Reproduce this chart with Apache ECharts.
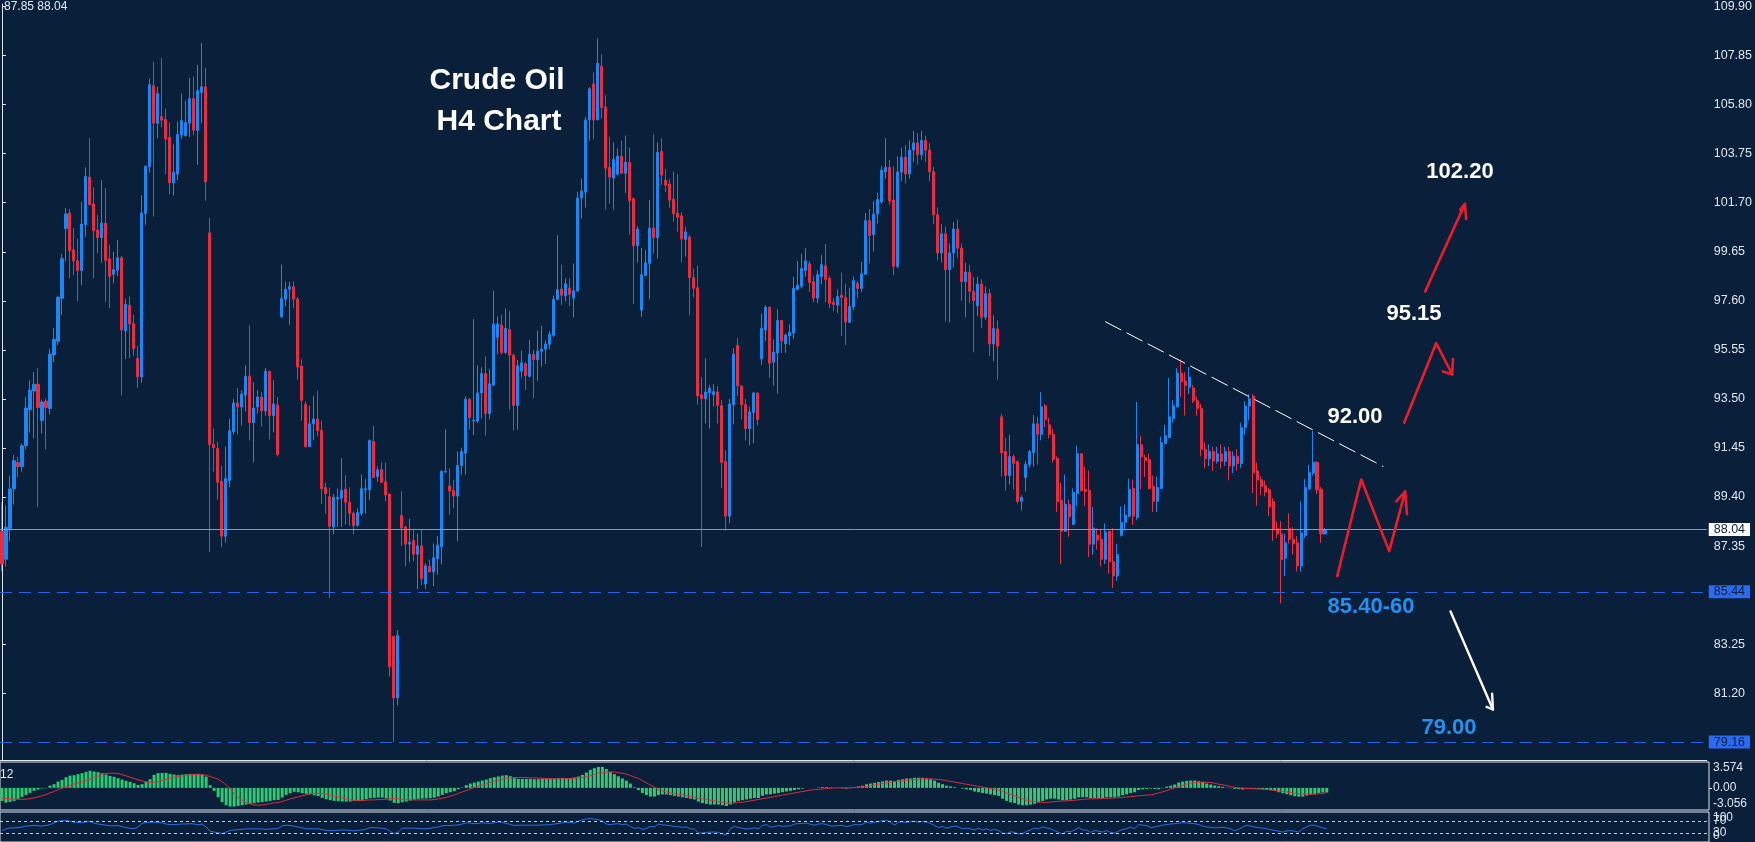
<!DOCTYPE html>
<html>
<head>
<meta charset="utf-8">
<title>Crude Oil H4 Chart</title>
<script src="https://cdn.jsdelivr.net/npm/echarts@6.0.0/dist/echarts.min.js"></script>
<style>
  html, body { margin: 0; padding: 0; background: #0a1f3a; }
  #chart { width: 1755px; height: 842px; }
</style>
</head>
<body>
<div id="chart"></div>
<script>
// H4 bars, oldest first: [open, close, low, high]
const candles = [
  [87.97,86.60,86.30,89.18],[86.80,88.14,86.50,89.05],[88.08,89.74,87.55,90.30],[89.74,90.92,89.08,91.16],[90.84,90.67,90.23,91.09],
  [90.67,91.54,90.46,91.64],[91.54,93.12,91.39,93.58],[93.05,93.86,92.09,94.27],[93.83,94.11,91.85,94.62],[94.11,93.14,88.98,94.79],
  [92.60,93.37,92.06,93.47],[93.41,93.14,91.39,93.51],[93.10,95.37,92.85,95.59],[95.34,95.99,95.03,96.45],[95.91,97.74,95.75,97.81],
  [97.71,99.36,97.00,99.56],[100.62,101.23,99.25,101.48],[101.27,99.70,98.54,101.44],[99.73,99.27,98.68,100.65],[99.27,98.87,97.58,100.19],
  [98.87,100.81,98.25,101.73],[100.79,102.79,100.29,103.18],[102.77,101.62,101.62,104.39],[101.65,100.53,98.54,102.35],[100.56,100.24,99.58,101.19],
  [100.24,100.85,99.20,102.64],[100.85,99.29,97.56,102.31],[99.36,98.62,97.29,99.94],[98.71,98.90,98.33,99.65],[98.88,99.40,98.62,100.15],
  [99.40,96.38,93.65,99.48],[96.34,97.45,95.17,97.69],[97.41,96.63,95.21,97.78],[96.66,95.59,95.31,97.03],[95.20,94.42,93.97,95.70],
  [94.42,101.27,94.18,102.02],[101.24,103.22,100.78,103.26],[103.20,106.63,102.95,106.88],[106.59,105.02,101.12,107.59],[105.02,106.26,104.39,106.55],
  [105.30,105.15,104.86,107.75],[105.18,104.36,102.90,105.63],[104.43,102.53,102.06,105.05],[102.53,102.97,102.00,104.14],[102.90,104.55,102.65,105.09],
  [104.53,105.13,104.36,106.26],[104.51,105.05,104.47,105.97],[105.02,106.05,104.44,106.92],[106.05,104.73,104.53,106.96],[104.72,106.38,103.28,107.46],
  [106.30,106.55,105.02,108.38],[106.55,102.57,101.78,107.34],[100.44,91.60,87.10,101.06],[91.60,91.46,90.46,92.26],[91.43,90.02,89.29,91.71],
  [90.05,87.76,87.30,90.71],[87.76,90.17,87.50,91.50],[90.09,92.17,89.81,92.68],[92.13,93.33,92.01,93.50],[93.33,93.16,92.01,93.95],
  [93.16,93.70,92.39,93.87],[93.66,94.45,92.97,94.91],[94.45,92.51,91.77,96.57],[92.51,93.12,90.85,94.20],[93.16,93.58,92.89,93.87],
  [93.58,93.00,92.35,93.79],[93.00,94.66,92.80,94.79],[94.66,92.80,91.81,94.66],[92.80,93.29,92.10,94.29],[93.25,91.18,91.10,93.58],
  [96.93,97.69,96.90,99.11],[97.67,98.07,97.38,98.40],[98.08,98.19,96.59,98.40],[98.19,97.67,97.29,98.40],[97.67,94.84,94.30,97.76],
  [94.87,93.44,92.59,95.16],[93.28,91.51,91.46,93.39],[91.51,92.46,91.51,93.21],[92.46,92.66,91.77,93.63],[92.66,92.18,91.94,93.84],
  [92.18,89.75,89.11,92.59],[89.80,89.53,88.70,90.01],[89.42,88.18,85.19,89.80],[88.15,89.39,87.84,89.53],[89.32,89.39,88.15,89.75],
  [89.35,89.68,88.15,91.03],[89.73,89.18,88.25,90.32],[89.18,88.72,88.20,89.80],[88.72,88.20,87.84,88.80],[88.22,88.75,88.15,88.92],
  [88.72,89.75,88.61,90.34],[89.70,89.75,88.70,90.15],[89.70,91.77,89.27,91.80],[91.72,90.22,90.22,92.37],[90.25,90.53,90.04,90.68],
  [90.56,90.01,90.00,90.84],[90.04,89.49,89.22,90.84],[89.53,82.30,81.90,89.53],[83.58,81.00,79.16,83.58],[81.00,83.62,80.70,83.84],
  [88.63,88.11,87.36,89.65],[88.15,87.43,86.50,88.20],[87.43,87.51,86.68,88.49],[87.58,87.01,86.72,88.03],[87.01,87.36,85.55,87.87],
  [87.36,85.98,85.72,88.06],[85.77,86.53,85.56,86.63],[86.51,86.27,86.25,86.79],[86.27,86.86,85.68,87.46],[86.83,87.39,86.15,87.77],
  [87.32,90.48,86.58,90.51],[90.44,90.48,90.44,92.23],[89.87,89.65,88.67,90.60],[89.67,89.44,88.92,90.11],[89.44,90.72,87.55,91.30],
  [90.72,91.30,90.34,91.46],[91.23,93.49,90.34,93.61],[93.49,92.72,92.23,93.54],[92.58,92.61,91.99,96.83],[92.58,93.75,92.49,94.90],
  [93.75,94.56,92.68,94.82],[94.56,92.89,91.97,95.28],[92.89,94.13,92.66,94.75],[94.08,96.63,94.06,98.02],[96.08,96.63,95.37,96.94],
  [96.59,95.44,95.35,97.02],[95.44,96.45,95.39,97.28],[96.40,95.33,93.06,97.18],[95.33,93.23,92.18,95.39],[93.23,94.89,92.21,95.13],
  [94.66,95.01,94.39,95.52],[94.97,94.47,93.87,95.04],[94.44,95.37,94.40,95.97],[95.37,95.14,93.53,95.56],[95.14,95.49,94.25,96.35],
  [95.49,95.58,94.85,96.56],[95.58,95.80,94.96,95.95],[95.78,96.20,95.58,96.33],[96.16,97.66,96.09,97.82],[97.66,98.06,97.66,100.35],
  [98.09,97.83,97.42,99.11],[97.80,98.32,97.56,98.54],[98.14,97.87,97.38,98.54],[97.71,98.02,96.90,99.16],[98.02,101.90,97.97,102.16],
  [101.90,102.19,101.04,102.71],[102.14,105.16,101.50,105.29],[105.16,106.46,104.29,106.53],[106.67,105.16,104.36,107.14],[105.16,107.53,105.16,108.57],
  [107.40,105.68,105.22,107.90],[105.70,103.14,101.41,106.20],[103.18,102.77,101.66,104.47],[102.73,103.51,101.41,104.22],[102.89,103.64,102.86,103.97],
  [103.64,102.93,102.89,104.30],[102.93,103.39,102.11,104.51],[103.39,101.78,100.37,104.01],[101.87,99.90,97.46,101.91],[99.90,100.60,99.20,100.73],
  [97.21,98.69,96.92,99.81],[98.65,99.19,98.65,99.73],[99.17,100.64,97.67,101.81],[100.64,100.24,99.58,104.55],[100.24,103.80,99.37,104.22],
  [103.85,102.86,102.45,104.39],[102.64,102.43,102.14,103.11],[102.48,101.81,101.49,102.68],[101.85,101.24,100.91,103.01],[101.27,101.10,100.49,102.90],
  [101.15,100.19,99.20,101.31],[100.16,100.48,99.45,100.69],[100.27,98.57,97.00,100.36],[98.57,98.12,97.75,98.94],[98.15,93.63,93.26,99.07],
  [93.68,93.51,87.31,94.41],[93.51,93.79,92.47,95.20],[93.76,93.95,92.26,94.08],[93.68,93.80,93.18,94.12],[93.79,93.22,92.47,94.04],
  [93.22,90.85,89.77,93.46],[90.88,88.60,88.00,91.35],[88.60,93.29,88.30,93.50],[93.26,95.37,92.43,95.62],[95.74,94.05,93.63,96.03],
  [94.04,93.26,92.64,94.08],[93.26,92.26,91.76,93.50],[92.26,92.96,91.56,93.18],[92.93,93.75,91.64,93.80],[93.75,92.64,92.39,93.76],
  [95.17,96.45,94.92,97.08],[96.38,97.33,95.92,97.42],[97.33,94.99,94.38,97.38],[95.04,95.45,94.05,95.99],[95.42,96.78,93.72,97.24],
  [96.78,95.92,95.42,96.78],[95.80,96.17,95.42,96.22],[96.13,96.28,95.75,96.61],[96.25,98.12,96.00,98.61],[98.08,98.25,98.04,99.27],
  [98.21,98.95,98.12,99.56],[98.87,99.27,98.61,99.81],[99.15,98.37,97.96,99.27],[98.40,97.71,97.54,98.65],[97.71,98.69,97.50,98.87],
  [98.62,99.11,98.29,99.52],[99.07,98.50,97.54,99.98],[98.53,97.50,97.29,98.65],[97.54,97.45,97.17,97.71],[97.42,97.78,97.09,98.07],
  [97.84,97.74,96.13,98.78],[97.74,96.71,95.75,98.32],[96.70,97.36,96.67,98.15],[97.34,98.44,97.21,98.61],[98.32,98.12,97.71,98.42],
  [98.12,98.73,97.96,99.23],[98.71,100.95,98.71,101.27],[100.95,100.33,99.17,101.44],[100.37,101.23,99.66,101.77],[101.23,101.83,100.83,102.12],
  [101.73,103.06,101.66,103.23],[102.99,103.18,102.70,104.39],[103.18,101.78,101.62,103.49],[101.81,99.04,98.67,103.23],[99.04,102.98,98.96,103.64],
  [102.98,103.60,102.60,104.00],[103.60,102.90,102.50,104.10],[102.90,103.90,102.70,104.30],[103.90,104.20,103.40,104.70],[104.20,103.70,103.30,104.60],
  [103.70,104.30,103.50,104.70],[104.30,103.90,103.40,104.50],[103.90,103.00,102.60,104.20],[103.00,101.20,100.80,103.20],[101.20,99.60,99.30,101.50],
  [99.60,100.40,99.20,100.80],[100.40,98.90,96.74,100.70],[98.90,99.60,96.70,100.00],[99.60,100.60,99.00,100.90],[100.60,99.80,99.40,101.00],
  [99.80,98.40,97.60,100.00],[98.40,98.80,96.91,99.20],[98.80,98.00,97.50,99.10],[98.00,97.60,95.45,98.60],[97.39,98.30,96.95,98.60],
  [98.30,96.91,96.46,98.50],[96.91,97.90,96.80,98.20],[97.90,95.80,95.29,98.10],[95.80,96.45,95.08,97.00],[96.43,95.70,94.29,96.78],
  [92.75,91.25,90.26,92.88],[91.30,90.30,89.67,91.88],[90.30,91.09,89.92,92.00],[91.09,90.80,89.72,91.17],[90.88,89.22,89.13,90.92],
  [89.22,89.38,88.84,89.47],[90.22,90.76,89.63,90.92],[90.76,91.30,90.63,91.38],[91.25,92.46,90.67,92.83],[92.46,92.02,90.76,92.75],
  [92.02,93.17,91.77,93.79],[93.21,92.64,92.33,93.29],[92.42,92.02,91.85,92.71],[92.02,90.96,90.84,92.25],[91.01,89.22,88.77,91.10],
  [89.26,87.97,86.60,90.01],[87.97,89.09,87.94,90.34],[89.09,88.57,87.74,89.30],[88.26,89.59,88.22,89.76],[89.55,91.21,89.02,91.55],
  [91.21,89.67,89.63,91.21],[89.72,89.63,89.02,90.67],[89.67,87.43,86.90,90.51],[87.43,88.10,87.00,88.97],[87.80,87.61,87.20,88.10],
  [87.64,86.80,86.50,88.05],[86.80,87.93,86.60,88.30],[87.97,86.70,86.20,87.97],[86.70,86.10,85.60,88.10],[86.10,87.00,85.90,87.43],
  [87.80,88.34,87.76,89.01],[88.34,88.64,88.01,89.09],[88.60,89.72,88.55,90.17],[89.76,88.60,88.23,90.13],[88.55,91.59,88.43,93.37],
  [91.59,91.09,89.73,91.96],[91.05,90.92,90.23,91.17],[90.96,89.76,89.72,91.21],[89.84,89.22,88.77,90.30],[89.22,89.80,88.77,90.26],
  [89.76,91.67,89.72,91.92],[91.63,91.96,91.60,92.42],[91.88,92.75,91.87,94.37],[92.68,93.21,92.51,93.46],[93.17,94.58,93.14,94.79],
  [94.58,94.21,93.58,95.15],[94.25,94.05,92.81,94.62],[93.99,94.41,93.71,94.83],[93.96,93.42,93.33,94.09],[93.42,93.10,92.80,93.60],
  [93.10,91.40,91.10,93.30],[91.40,91.00,90.60,91.70],[91.00,91.30,90.70,91.60],[91.30,90.90,90.50,91.50],[90.90,91.20,90.80,91.50],
  [91.20,90.90,90.60,91.60],[90.90,91.30,90.70,91.50],[91.30,90.70,90.10,91.50],[90.70,91.10,90.40,91.30],[91.10,90.80,90.50,91.40],
  [90.80,92.30,90.60,92.50],[92.30,93.20,92.00,93.40],[93.20,93.50,92.60,93.70],[93.62,90.42,89.56,93.70],[90.49,90.12,89.04,90.84],
  [90.12,89.84,89.49,90.26],[89.87,89.61,89.43,90.09],[89.70,88.98,88.60,89.77],[89.22,88.04,87.56,89.36],[88.08,87.86,87.69,88.39],
  [87.86,86.79,84.95,88.39],[86.84,87.49,86.10,87.86],[88.08,87.63,87.45,88.72],[87.63,87.45,87.00,88.14],[87.49,86.52,86.28,87.77],
  [86.52,87.90,86.28,89.22],[87.79,89.80,87.69,90.15],[89.74,90.42,89.70,90.74],[90.40,90.85,90.30,92.16],[90.85,89.70,89.52,90.91],
  [89.73,87.86,87.49,89.83],[87.86,88.04,87.84,88.10]
];

// MACD histogram and signal, one value per bar
const macdHist = [
  -1.80,-2.03,-1.93,-1.80,-1.52,-1.24,-0.97,-0.69,-0.41,-0.23,-0.09,-0.05,0.32,0.51,0.87,1.10,1.47,1.70,1.75,1.89,
  2.03,2.21,2.35,2.26,2.16,2.03,1.84,1.66,1.52,1.34,1.15,0.97,0.83,0.64,0.41,0.51,0.83,1.20,1.80,2.03,
  2.07,2.07,1.93,1.84,1.75,1.84,1.89,1.93,1.93,1.89,1.80,1.57,0.37,-0.41,-1.29,-1.98,-2.39,-2.58,-2.58,-2.49,
  -2.39,-2.30,-2.21,-2.12,-2.03,-1.98,-1.89,-1.80,-1.70,-1.66,-1.34,-0.97,-0.74,-0.55,-0.60,-0.74,-0.83,-0.87,-1.01,-1.15,
  -1.38,-1.57,-1.70,-1.80,-1.84,-1.89,-1.89,-1.89,-1.80,-1.75,-1.66,-1.57,-1.43,-1.38,-1.34,-1.34,-1.47,-1.75,-2.07,-2.12,
  -1.98,-1.89,-1.75,-1.61,-1.52,-1.47,-1.47,-1.43,-1.34,-1.20,-0.97,-0.74,-0.60,-0.46,-0.18,0.05,0.37,0.60,0.74,0.87,
  1.01,1.15,1.34,1.47,1.57,1.70,1.75,1.61,1.34,1.24,1.24,1.24,1.24,1.20,1.20,1.24,1.24,1.24,1.29,1.34,
  1.38,1.34,1.34,1.43,1.57,1.80,2.12,2.49,2.72,2.90,
  2.9,2.6,2.2,1.9,1.6,1.3,1.0,0.6,0.1,-0.3,-0.7,-1.0,-1.2,
  -1.2,-1.0,-0.9,-0.9,-1.0,-1.1,-1.2,-1.3,-1.4,-1.5,-1.6,-1.9,-2.1,-2.2,-2.3,-2.3,-2.3,-2.4,
  -2.5,-2.3,-2.0,-1.8,-1.7,-1.6,-1.5,-1.4,-1.4,-1.1,-0.9,-0.9,-0.8,-0.7,-0.6,-0.5,-0.4,-0.3,-0.2,-0.1,
  0.0,0.0,0.0,0.05,0.1,0.1,0.05,0.0,0.0,-0.05,-0.1,-0.05,0.1,0.2,0.3,0.5,0.6,0.7,0.8,0.9,1.0,1.0,0.9,1.1,
  1.2,1.3,1.3,1.4,1.4,1.4,1.3,1.2,1.0,0.7,0.5,0.3,0.2,0.1,0.0,-0.1,-0.2,-0.3,-0.5,-0.6,-0.7,-0.8,-0.9,-1.0,-1.1,
  -1.5,-1.8,-2.0,-2.1,-2.3,-2.4,-2.4,-2.3,-2.2,-2.0,-1.8,-1.6,-1.5,
  -1.5,-1.6,-1.7,-1.7,-1.6,-1.5,-1.3,-1.3,-1.3,-1.4,-1.4,-1.4,-1.4,
  -1.3,-1.3,-1.3,-1.2,-1.0,-0.9,-0.7,-0.6,-0.3,-0.2,-0.15,
  -0.09,-0.14,-0.18,-0.05,0.18,0.32,0.46,0.74,0.87,0.97,1.01,1.01,0.92,0.83,0.60,0.46,0.32,0.23,0.14,0.05,
  -0.05,-0.14,-0.18,-0.23,-0.14,-0.09,-0.09,-0.14,-0.18,-0.23,-0.32,-0.41,-0.60,-0.74,-0.87,-1.01,-1.15,-1.20,-1.20,-1.06,
  -0.92,-0.83,-0.69,-0.64,-0.64
];
const macdSignal = [
  -1.38,-1.47,-1.52,-1.57,-1.57,-1.57,-1.57,-1.47,-1.38,-1.24,-1.10,-0.92,-0.69,-0.51,-0.23,-0.05,0.14,0.32,0.51,0.69,
  0.83,1.01,1.20,1.43,1.61,1.89,1.98,2.03,2.03,1.98,1.84,1.66,1.47,1.29,1.10,0.97,0.83,0.78,0.78,0.87,
  1.01,1.20,1.34,1.47,1.57,1.66,1.75,1.80,1.84,1.89,1.84,1.75,1.57,1.38,1.20,0.83,0.41,-0.05,-0.74,-1.34,
  -1.70,-2.03,-2.21,-2.35,-2.39,-2.35,-2.30,-2.16,-2.07,-2.03,-1.89,-1.70,-1.52,-1.38,-1.24,-1.10,-0.97,-0.83,-0.74,-0.74,
  -0.78,-0.87,-1.01,-1.15,-1.24,-1.38,-1.52,-1.66,-1.70,-1.75,-1.75,-1.70,-1.66,-1.66,-1.61,-1.61,-1.57,-1.52,-1.47,-1.52,
  -1.57,-1.61,-1.66,-1.66,-1.66,-1.66,-1.66,-1.66,-1.61,-1.52,-1.43,-1.29,-1.15,-0.97,-0.78,-0.55,-0.37,-0.14,0.05,0.23,
  0.37,0.55,0.74,0.92,1.06,1.20,1.34,1.38,1.43,1.43,1.43,1.43,1.38,1.38,1.34,1.34,1.29,1.29,1.24,1.24,
  1.24,1.29,1.29,1.34,1.38,1.43,1.57,1.66,1.84,2.03,
  2.1,2.2,2.2,2.2,2.1,2.0,1.9,1.7,1.5,1.3,1.0,
  0.7,0.4,0.1,-0.2,-0.4,-0.6,-0.7,-0.8,-0.9,-1.0,-1.1,-1.2,-1.3,-1.4,-1.5,
  -1.6,-1.7,-1.8,-1.9,-2.0,-2.1,-2.1,-2.1,-2.0,-2.0,-1.9,-1.8,-1.7,-1.6,-1.5,
  -1.4,-1.3,-1.2,-1.1,-1.0,-0.9,-0.8,-0.7,-0.6,-0.5,-0.4,-0.3,-0.25,-0.2,-0.15,-0.1,-0.05,0,0,0,0,0,
  0.05,0.1,0.15,0.2,0.3,0.4,0.5,0.6,0.7,0.8,0.85,0.9,1.0,1.05,1.1,1.15,1.2,1.25,1.25,1.25,1.2,1.15,1.1,
  1.0,0.9,0.8,0.7,0.6,0.5,0.4,0.3,0.2,0.1,0.0,-0.1,-0.2,-0.3,
  -0.5,-0.7,-0.9,-1.1,-1.3,-1.5,-1.7,-1.8,-1.9,-1.95,-2.0,-2.0,-1.95,
  -1.9,-1.85,-1.8,-1.8,-1.75,-1.7,-1.65,-1.6,-1.55,-1.5,-1.5,-1.5,-1.45,
  -1.45,-1.4,-1.4,-1.35,-1.3,-1.25,-1.2,-1.15,-1.1,-1.05,-1.0,
  -0.97,-0.83,-0.69,-0.55,-0.37,-0.18,0,0.18,0.37,0.51,0.64,0.74,0.78,0.78,0.78,0.74,0.64,0.51,0.41,0.32,
  0.18,0.09,0,-0.05,-0.09,-0.09,-0.14,-0.14,-0.18,-0.23,-0.28,-0.37,-0.41,-0.51,-0.55,-0.64,-0.74,-0.78,-0.83,-0.87,
  -0.87,-0.87,-0.83,-0.78,-0.64
];
// lower oscillator, one value per bar
const rsiValues = [
  37,44,47,47,48,50,53,54,55,54,53,55,58,63,69,71,72,69,66,65,
  64,67,68,63,60,58,56,54,54,55,51,48,46,44,50,62,65,66,66,65,
  64,60,58,58,59,60,60,61,60,57,60,50,36,33,31,28,33,39,40,41,
  42,44,44,44,44,43,42,43,44,45,54,56,55,53,50,47,44,44,44,44,
  41,39,38,38,39,40,40,38,37,39,40,43,48,48,47,46,44,35,28,33,
  46,46,46,46,45,44,44,46,48,50,54,55,55,56,57,60,64,63,61,62,
  64,63,62,64,67,65,62,59,55,56,56,56,56,56,56,57,57,58,60,62,
  64,66,65,63,69,74,77,78,76,75,
  70,60,58,60,61,58,60,52,45,48,42,
  45,52,50,60,57,56,54,52,51,49,50,44,43,30,30,
  32,33,33,32,27,24,45,52,48,46,43,45,47,44,55,
  58,50,51,55,52,53,54,60,61,62,63,59,56,60,61,58,54,53,55,55,51,54,
  58,57,59,66,63,66,68,71,72,66,56,66,67,65,68,69,66,68,66,62,55,48,52,
  46,50,53,50,44,46,44,40,46,40,44,38,42,38,
  30,28,34,32,27,28,36,40,46,44,50,47,44,
  38,32,27,36,34,40,48,40,40,32,38,36,33,
  38,32,30,36,42,44,50,44,58,56,55,
  48,50,53,56,58,60,61,63,64,64,62,61,58,53,50,49,47,48,49,47,
  44,37,42,50,56,53,50,48,46,44,41,38,36,33,37,38,36,33,44,50,
  56,56,51,47,44
];

const priceTicks = [81.20, 83.25, 87.35, 89.40, 91.45, 93.50, 95.55, 97.60, 99.65, 101.70, 103.75, 105.80, 107.85, 109.90];
const macdTicks = [-3.056, 0, 3.574];
const rsiTicks = [0, 100];
const lastPrice = 88.04;
const supportLevels = [85.44, 79.16];
const rsiLevels = [70, 30];

// drawn annotations as [bar index, price]
const trendLine = [[276.0, 96.73], [345.6, 90.67]];
const redPaths = [
  [[356.05, 97.99], [366.0, 101.65]],
  [[364.8, 101.40], [366.0, 101.65], [366.3, 101.02]],
  [[350.8, 92.50], [358.8, 95.83], [362.8, 94.53]],
  [[360.5, 94.65], [362.8, 94.53], [363.0, 95.17]],
  [[334.05, 86.10], [340.05, 90.13], [347.05, 87.14], [351.05, 89.63]],
  [[348.8, 89.22], [351.05, 89.63], [351.5, 88.68]]
];
const whitePaths = [
  [[362.4, 84.62], [373.0, 80.52]],
  [[371.4, 80.63], [373.0, 80.52], [372.8, 81.18]]
];

const slots = 427; // bar slots across the plot, including the empty space on the right
const slotIdx = Array.from({ length: slots }, (_, i) => i);

const bg = '#0a1f3a';
const upColor = '#1e86f0';
const downColor = '#e62e40';
const frame = '#dfe5ec';
const axisFont = { color: frame, fontFamily: 'Liberation Sans', fontSize: 12.5 };
const noteFont = 'bold 22px "Liberation Sans"';

const chart = echarts.init(document.getElementById('chart'));

const option = {
  backgroundColor: bg,
  animation: false,
  grid: [
    { left: 0, right: 46, top: 0, height: 760 },
    { left: -1, right: 46, top: 762, height: 48, show: true, borderColor: frame, borderWidth: 1 },
    { left: -1, right: 46, top: 812, height: 31, show: true, borderColor: frame, borderWidth: 1 }
  ],
  xAxis: [
    {
      type: 'category', gridIndex: 0, data: slotIdx, boundaryGap: true,
      axisLine: { lineStyle: { color: frame } },
      axisTick: { show: false }, axisLabel: { show: false }, splitLine: { show: false }
    },
    { type: 'value', gridIndex: 0, position: 'top', min: -0.5, max: slots - 0.5, show: false },
    { type: 'category', gridIndex: 1, data: slotIdx, show: false },
    { type: 'category', gridIndex: 2, data: slotIdx, show: false }
  ],
  yAxis: [
    {
      type: 'value', gridIndex: 0, position: 'right', min: 78.41, max: 110.0,
      axisLine: { show: true, lineStyle: { color: frame } },
      axisTick: { show: true, length: 4, customValues: priceTicks, lineStyle: { color: frame } },
      axisLabel: Object.assign({ customValues: priceTicks, margin: 7, formatter: v => v.toFixed(2) }, axisFont),
      splitLine: { show: false }
    },
    {
      type: 'value', gridIndex: 1, position: 'right', min: -3.056, max: 3.574,
      axisLine: { show: false },
      axisTick: { show: true, length: 3, customValues: [0], lineStyle: { color: frame } },
      axisLabel: Object.assign({
        customValues: macdTicks, margin: 4, showMinLabel: true, showMaxLabel: true,
        verticalAlignMaxLabel: 'top', verticalAlignMinLabel: 'bottom',
        formatter: v => (v === 0 ? '0.00' : String(v))
      }, axisFont, { fontSize: 12 }),
      splitLine: { show: false }
    },
    {
      type: 'value', gridIndex: 2, position: 'right', min: 0, max: 100,
      axisLine: { show: false },
      axisTick: { show: false },
      axisLabel: Object.assign({
        customValues: rsiTicks, margin: 4, showMinLabel: true, showMaxLabel: true,
        verticalAlignMaxLabel: 'top', verticalAlignMinLabel: 'bottom'
      }, axisFont, { fontSize: 12 }),
      splitLine: { show: false }
    },
    {
      // level labels of the lower oscillator, drawn over the 0 / 100 labels as in the terminal
      type: 'value', gridIndex: 2, position: 'right', offset: 0, min: 0, max: 100,
      axisLine: { show: false },
      axisTick: { show: false },
      axisLabel: Object.assign({ customValues: rsiLevels, margin: 4 }, axisFont, { fontSize: 12 }),
      splitLine: { show: false }
    }
  ],
  series: [
    {
      name: 'Crude Oil', type: 'candlestick', xAxisIndex: 0, yAxisIndex: 0,
      data: candles, barWidth: 2.6,
      itemStyle: { color: upColor, color0: downColor, borderColor: upColor, borderColor0: downColor, borderWidth: 1 },
      markLine: {
        silent: true, symbol: ['none', 'none'], animation: false,
        label: { position: 'end', distance: 2, padding: [1, 5, 0, 5], lineHeight: 12, fontFamily: 'Liberation Sans', fontSize: 12.5 },
        data: [
          {
            yAxis: lastPrice,
            lineStyle: { color: '#8e9aa9', type: 'solid', width: 1 },
            label: { formatter: lastPrice.toFixed(2), backgroundColor: '#ffffff', color: bg }
          },
          ...supportLevels.map(v => ({
            yAxis: v,
            lineStyle: { color: '#2a62e6', type: [12, 7], width: 1 },
            label: { formatter: v.toFixed(2), backgroundColor: '#2b6af2', color: bg }
          }))
        ]
      }
    },
    {
      type: 'lines', coordinateSystem: 'cartesian2d', xAxisIndex: 1, yAxisIndex: 0,
      polyline: true, silent: true, z: 5,
      lineStyle: { color: '#ffffff', width: 1, type: [18, 6], opacity: 1 },
      data: [{ coords: trendLine }]
    },
    {
      type: 'lines', coordinateSystem: 'cartesian2d', xAxisIndex: 1, yAxisIndex: 0,
      polyline: true, silent: true, z: 5,
      lineStyle: { color: '#ee1c2a', width: 2.6, opacity: 1, cap: 'round', join: 'round' },
      data: redPaths.map(p => ({ coords: p }))
    },
    {
      type: 'lines', coordinateSystem: 'cartesian2d', xAxisIndex: 1, yAxisIndex: 0,
      polyline: true, silent: true, z: 5,
      lineStyle: { color: '#ffffff', width: 2.4, opacity: 1, cap: 'round', join: 'round' },
      data: whitePaths.map(p => ({ coords: p }))
    },
    {
      name: 'MACD', type: 'bar', xAxisIndex: 2, yAxisIndex: 1,
      data: macdHist, barWidth: 3,
      itemStyle: { color: '#2ecc6e' }
    },
    {
      name: 'Signal', type: 'line', xAxisIndex: 2, yAxisIndex: 1,
      data: macdSignal, showSymbol: false, symbol: 'none',
      lineStyle: { color: '#e8283a', width: 1 }, z: 3
    },
    {
      name: 'RSI', type: 'line', xAxisIndex: 3, yAxisIndex: 2,
      data: rsiValues, showSymbol: false, symbol: 'none',
      lineStyle: { color: '#2e6fe8', width: 1 },
      markLine: {
        silent: true, symbol: ['none', 'none'], label: { show: false },
        lineStyle: { color: '#c8cdd4', type: [3, 3], width: 1 },
        data: rsiLevels.map(v => ({ yAxis: v }))
      }
    }
  ],
  graphic: [
    { type: 'text', x: 4, y: 1, style: { text: '87.85 88.04', fill: '#e6ebf0', font: '12px "Liberation Sans"' } },
    { type: 'text', x: 0, y: 769, style: { text: '12', fill: '#e6ebf0', font: '12px "Liberation Sans"' } },
    { type: 'text', x: 497, y: 81, style: { text: 'Crude Oil', fill: '#ffffff', font: 'bold 30px "Liberation Sans"', align: 'center', verticalAlign: 'middle' } },
    { type: 'text', x: 499, y: 122, style: { text: 'H4 Chart', fill: '#ffffff', font: 'bold 30px "Liberation Sans"', align: 'center', verticalAlign: 'middle' } },
    { type: 'text', x: 1460, y: 172, style: { text: '102.20', fill: '#ffffff', font: noteFont, align: 'center', verticalAlign: 'middle' } },
    { type: 'text', x: 1414, y: 314, style: { text: '95.15', fill: '#ffffff', font: noteFont, align: 'center', verticalAlign: 'middle' } },
    { type: 'text', x: 1355, y: 417, style: { text: '92.00', fill: '#ffffff', font: noteFont, align: 'center', verticalAlign: 'middle' } },
    { type: 'text', x: 1371, y: 607, style: { text: '85.40-60', fill: '#2490f0', font: noteFont, align: 'center', verticalAlign: 'middle' } },
    { type: 'text', x: 1449, y: 728, style: { text: '79.00', fill: '#2490f0', font: noteFont, align: 'center', verticalAlign: 'middle' } }
  ]
};

chart.setOption(option);
</script>
</body>
</html>
